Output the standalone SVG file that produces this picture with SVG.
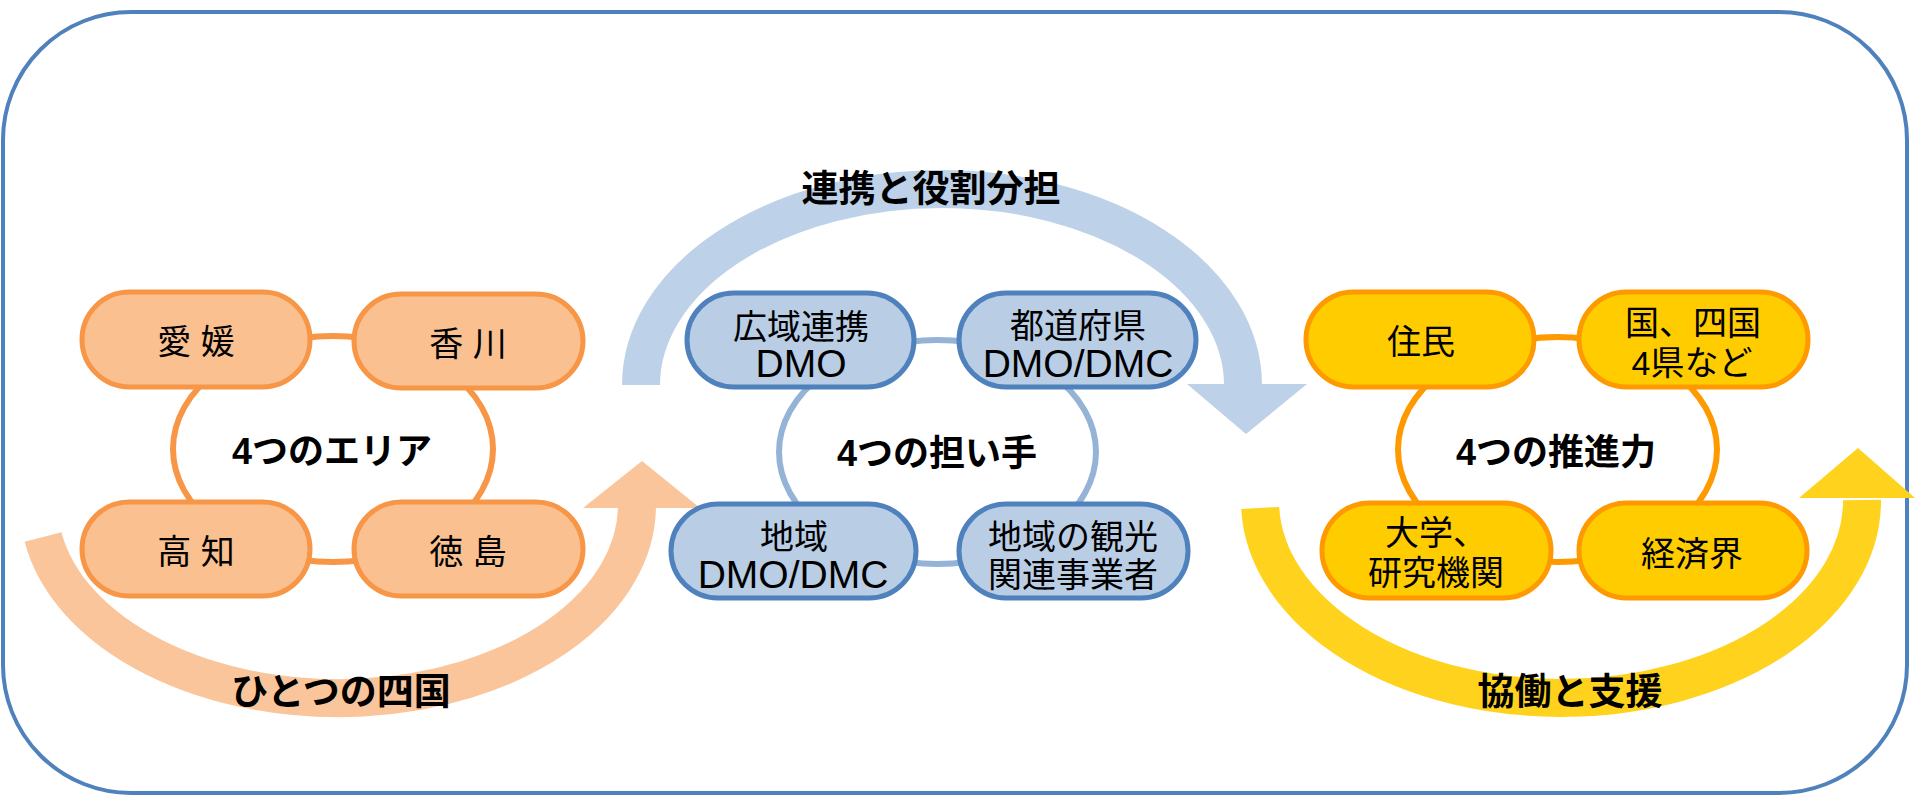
<svg xmlns="http://www.w3.org/2000/svg" width="1915" height="796" viewBox="0 0 1915 796">
<style>
.t{font-family:"Liberation Sans","Noto Sans CJK JP",sans-serif;font-size:34px;fill:#000;text-anchor:middle}
.lat{font-size:39px}
.c{font-family:"Liberation Sans","Noto Sans CJK JP",sans-serif;font-size:36px;font-weight:bold;fill:#000;text-anchor:middle}
.a{font-family:"Noto Sans CJK JP",sans-serif;font-size:37px;font-weight:bold;fill:#000;text-anchor:middle}
.no{fill:#FAC090;stroke:#F79646;stroke-width:5}
.nb{fill:#B9CDE5;stroke:#4F81BD;stroke-width:5}
.ny{fill:#FFCC00;stroke:#FF9900;stroke-width:5}
.ring{fill:none;stroke-width:6}
.band{fill:none;stroke-width:38;stroke-linecap:butt}
</style>
<rect width="1915" height="796" fill="#FFFFFF"/>
<rect id="frame" x="3" y="12" width="1904" height="781" rx="128" ry="128" fill="none" stroke="#4F81BD" stroke-width="4"/>

<g id="cycle-arrows">
  <g id="arrow-orange">
    <path class="band" stroke="#FAC59A" d="M 43.1 537 A 299 193 0 0 0 637 505"/>
    <polygon fill="#FAC59A" points="583,508 700,508 642,461"/>
  </g>
  <g id="arrow-blue">
    <path class="band" stroke="#BDD1E8" d="M 641 385 A 301 196 0 0 1 1243 385"/>
    <polygon fill="#BDD1E8" points="1187,384 1307,384 1246,434"/>
  </g>
  <g id="arrow-yellow">
    <path class="band" stroke="#FFD21E" d="M 1260.2 508 A 301 197 0 0 0 1862 500"/>
    <polygon fill="#FFD21E" points="1799,498 1915,498 1858,448"/>
  </g>
</g>

<g id="connectors">
  <ellipse class="ring" stroke="#F79646" cx="333" cy="449" rx="160" ry="113"/>
  <ellipse class="ring" stroke="#95B3D7" cx="937.5" cy="452" rx="158.5" ry="112"/>
  <ellipse class="ring" stroke="#FF9900" cx="1557.5" cy="449.5" rx="159.5" ry="112.5"/>
</g>

<g id="node-ehime"><rect class="no" x="82" y="292" width="228" height="95" rx="47.5"/><text class="t" x="196" y="354">愛 媛</text></g>
<g id="node-kagawa"><rect class="no" x="354" y="294" width="229" height="94" rx="47"/><text class="t" x="468" y="356">香 川</text></g>
<g id="node-kochi"><rect class="no" x="82" y="502" width="228" height="94" rx="47"/><text class="t" x="196" y="564">高 知</text></g>
<g id="node-tokushima"><rect class="no" x="354" y="502" width="229" height="94" rx="47"/><text class="t" x="468" y="564">徳 島</text></g>

<g id="node-kouiki"><rect class="nb" x="687" y="293" width="227" height="94" rx="47"/><text class="t" x="801" y="339">広域連携</text><text class="t lat" x="801" y="377">DMO</text></g>
<g id="node-todofuken"><rect class="nb" x="959" y="293" width="237" height="94" rx="47"/><text class="t" x="1078" y="338">都道府県</text><text class="t lat" x="1078" y="377">DMO/DMC</text></g>
<g id="node-chiiki"><rect class="nb" x="671" y="504" width="245" height="94" rx="47"/><text class="t" x="794" y="549">地域</text><text class="t lat" x="793" y="588">DMO/DMC</text></g>
<g id="node-kanko"><rect class="nb" x="959" y="504" width="229" height="94" rx="47"/><text class="t" x="1073" y="549">地域の観光</text><text class="t" x="1073" y="587">関連事業者</text></g>

<g id="node-jumin"><rect class="ny" x="1306" y="292" width="228" height="95" rx="47.5"/><text class="t" x="1421" y="354">住民</text></g>
<g id="node-kuni"><rect class="ny" x="1579" y="292" width="229" height="95" rx="47.5"/><text class="t" x="1693" y="335">国、四国</text><text class="t" x="1692" y="375">4県など</text></g>
<g id="node-daigaku"><rect class="ny" x="1322" y="503" width="229" height="95" rx="47.5"/><text class="t" x="1436" y="545">大学、</text><text class="t" x="1436" y="585">研究機関</text></g>
<g id="node-keizai"><rect class="ny" x="1579" y="503" width="228" height="95" rx="47.5"/><text class="t" x="1692" y="566">経済界</text></g>

<g id="labels">
  <text class="c" x="332" y="464">4つのエリア</text>
  <text class="c" x="937" y="466">4つの担い手</text>
  <text class="c" x="1556" y="465">4つの推進力</text>
  <text class="a" x="931" y="202">連携と役割分担</text>
  <text class="a" x="341" y="705">ひとつの四国</text>
  <text class="a" x="1570" y="705">協働と支援</text>
</g>
</svg>
